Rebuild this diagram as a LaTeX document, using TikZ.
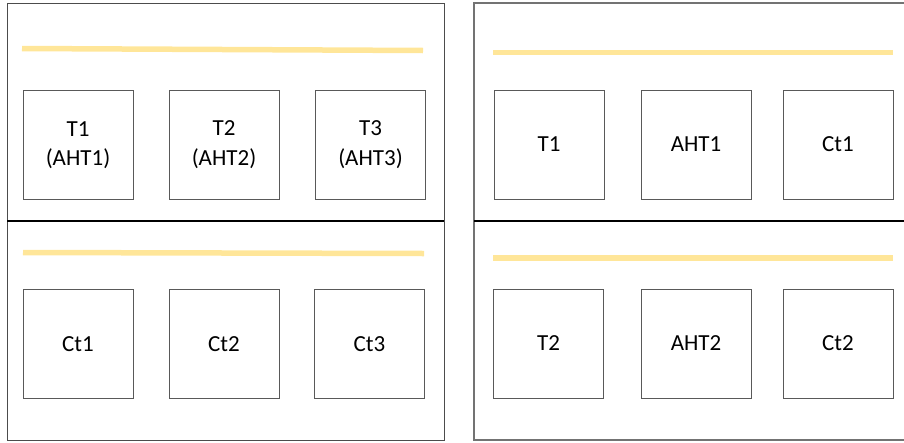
\documentclass[tikz,border=0pt]{standalone}
\usepackage{fontspec}
\setmainfont{Carlito}
\begin{document}
\begin{tikzpicture}[x=1pt,y=-1pt,
  panel/.style={draw=black!70,line width=1pt},
  divider/.style={draw=black,line width=1.2pt},
  bar/.style={draw=barcol,line width=5.5pt},
  cell/.style={draw=black!65,line width=1pt,minimum width=110pt,minimum height=109pt,
    inner sep=0pt,font=\fontsize{23}{29.5}\selectfont,align=center}]
\definecolor{barcol}{HTML}{FFE699}
\useasboundingbox (0,0) rectangle (904,442);

% left panel
\draw[panel] (7,3) rectangle (444,440);
\draw[divider] (7,221) -- (444,221);
\draw[bar] (22,48.5) -- (423,50.5);
\draw[bar] (23,252.5) -- (424,253.5);
\node[cell] (l1) at (78,145) {T1\\(AHT1)};
\node[cell] (l2) at (224,144.5) {T2\\(AHT2)};
\node[cell] (l3) at (370.5,144.5) {T3\\(AHT3)};
\node[cell] (l4) at (78,344) {Ct1};
\node[cell] (l5) at (224,344) {Ct2};
\node[cell] (l6) at (369.5,344) {Ct3};

% right panel (runs past the right edge)
\draw[panel,draw=black!55,line width=1.6pt] (910,3) -- (474,3) -- (474,440) -- (910,440);
\draw[divider] (474,221) -- (910,221);
\draw[bar] (493,52.5) -- (893,52.5);
\draw[bar] (493,258) -- (893,258);
\node[cell] (r1) at (549,144.5) {T1};
\node[cell] (r2) at (696,144.5) {AHT1};
\node[cell] (r3) at (838,144.5) {Ct1};
\node[cell] (r4) at (548.5,343.5) {T2};
\node[cell] (r5) at (696,343.5) {AHT2};
\node[cell] (r6) at (838,343.5) {Ct2};
\end{tikzpicture}
\end{document}
